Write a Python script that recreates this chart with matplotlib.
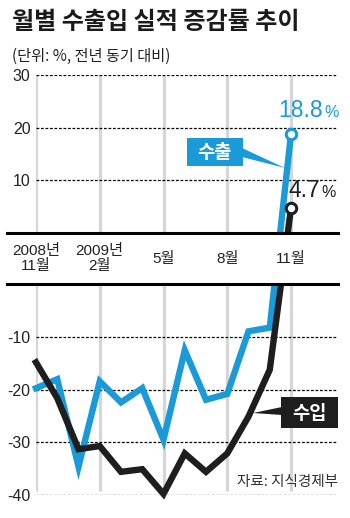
import numpy as np
import matplotlib
matplotlib.use('Agg')
import matplotlib.pyplot as plt
from matplotlib.patches import Rectangle, Polygon

# ---------------- data ----------------
months = list(range(13))  # 2008-11 ... 2009-11
exports = [-19.7, -18.0, -34.6, -18.4, -22.4, -19.7, -29.5, -12.5, -21.9, -20.8, -8.9, -8.2, 18.8]
imports = [-14.8, -21.6, -31.3, -30.7, -35.6, -35.1, -39.8, -32.1, -35.6, -32.1, -25.1, -16.2, 4.7]
x_tick_pos = [0, 3, 6, 9, 12]
x_tick_labels = ['2008년\n11월', '2009년\n2월', '5월', '8월', '11월']
y_ticks = [30, 20, 10, -10, -20, -30, -40]
y_tick_labels = ['30', '20', '10', '-10', '-20', '-30', '-40']
title = '월별 수출입 실적 증감률 추이'
subtitle = '(단위: %, 전년 동기 대비)'
source = '자료: 지식경제부'

BLUE = '#1a9ad6'
BLACK = '#1e1e1e'
GRID = '#d6d6d6'
NUM_FONT = ['Liberation Sans', 'Noto Sans CJK KR']
KR_FONT = ['Noto Sans CJK KR', 'DejaVu Sans']
plt.rcParams['font.family'] = KR_FONT

W, H = 350, 518
GAP = 9.8  # band inserted at zero for month labels


def fwd(y):
    y = np.asarray(y, dtype=float)
    return np.where(y >= 0, y, y - GAP)


def inv(p):
    p = np.asarray(p, dtype=float)
    return np.where(p >= 0, p, np.where(p <= -GAP, p + GAP, 0.0))


def P(x, y):
    return (x / W, 1 - y / H)


fig = plt.figure(figsize=(W / 100, H / 100), dpi=100)
fig.patch.set_facecolor('white')
ax = fig.add_axes([36 / W, 1 - 495 / H, (338 - 36) / W, (495 - 75) / H])
ax.set_yscale('function', functions=(fwd, inv))
ax.set_ylim(-40, 30)
ax.set_xlim(0, (338 - 36) / 21.25)
for s in ax.spines.values():
    s.set_visible(False)
ax.set_xticks([])
ax.set_yticks(y_ticks, y_tick_labels, family=NUM_FONT, fontsize=11.5, color='#222222')
ax.tick_params(axis='y', length=0, pad=4)
ax.set_facecolor('none')

NEG0 = -1e-6

# vertical grid
ax.vlines(x_tick_pos, -39.2, 30, color=GRID, lw=2.3, zorder=1)

# dashed horizontal lines
ax.hlines(y_ticks, 0, ax.get_xlim()[1], color='black', lw=0.9,
          linestyles=(0, (2.2, 1.4)), zorder=2)

# data lines
ax.plot(months, exports, color=BLUE, lw=4.6, solid_joinstyle='miter', clip_on=False, zorder=5)
ax.plot(months, imports, color=BLACK, lw=4.6, solid_joinstyle='miter', clip_on=False, zorder=6)
ax.plot(months[-1], exports[-1], 'o', ms=7.5, mfc='white', mec=BLUE, mew=2.2, zorder=7, clip_on=False)
ax.plot(months[-1], imports[-1], 'o', ms=7.5, mfc='white', mec=BLACK, mew=2.2, zorder=7, clip_on=False)

# white label band covering grid and lines
ax.axhspan(NEG0, 0, xmin=-29 / 302, xmax=1, facecolor='white', edgecolor='none',
           zorder=8, clip_on=False)
ax.axhline(0, xmin=-29 / 302, xmax=1, color='black', lw=2.2, clip_on=False, zorder=9)
ax.axhline(NEG0, xmin=-29 / 302, xmax=1, color='black', lw=2.2, clip_on=False, zorder=9)

# band labels
lo, hi = fwd(-40), fwd(30)
mid = (fwd(0) + fwd(NEG0)) / 2
frac = float((mid - lo) / (hi - lo))
for xp, lab in zip(x_tick_pos, x_tick_labels):
    ax.text(xp, frac, lab, transform=ax.get_xaxis_transform(), ha='center', va='center',
            family=NUM_FONT, fontsize=11, color='#222222', linespacing=1.05, zorder=10)

# end value annotations
ax.annotate(f'{exports[-1]:.1f}', xy=(months[-1], exports[-1]), xytext=(32, 17),
            textcoords='offset pixels', ha='right', va='baseline', color=BLUE,
            family=NUM_FONT, fontsize=16.5)
ax.annotate('%', xy=(months[-1], exports[-1]), xytext=(33, 17),
            textcoords='offset pixels', ha='left', va='baseline', color=BLUE,
            family=NUM_FONT, fontsize=11.5)
ax.annotate(f'{imports[-1]:.1f}', xy=(months[-1], imports[-1]), xytext=(29, 11),
            textcoords='offset pixels', ha='right', va='baseline', color=BLACK,
            family=NUM_FONT, fontsize=16.5)
ax.annotate('%', xy=(months[-1], imports[-1]), xytext=(30, 11),
            textcoords='offset pixels', ha='left', va='baseline', color=BLACK,
            family=NUM_FONT, fontsize=11.5)

# series label boxes with pointers
def label_box(x0, y0, x1, y1, text, color, wedge):
    fig.patches.append(Rectangle(P(x0, y1), (x1 - x0) / W, (y1 - y0) / H,
                                 transform=fig.transFigure, facecolor=color,
                                 edgecolor='none', zorder=8))
    fig.patches.append(Polygon([P(*w) for w in wedge], closed=True,
                               transform=fig.transFigure, facecolor=color,
                               edgecolor='none', zorder=8))
    fig.text(*P((x0 + x1) / 2, (y0 + y1) / 2 + 1), text, ha='center', va='center',
             color='white', fontsize=13.5, fontweight='bold', zorder=9)

label_box(187, 138, 243, 166, '수출', BLUE, [(242, 148), (242, 157), (285, 168)])
label_box(281, 397, 338, 428, '수입', BLACK, [(282, 407), (282, 415), (253, 413)])

# titles and source
fig.text(12 / W, 1 - 22 / H, title, ha='left', va='center', fontsize=17.3,
         fontweight='bold', color='#1a1a1a')
fig.text(12 / W, 1 - 56 / H, subtitle, ha='left', va='center', fontsize=11,
         color='#222222')
fig.text(338 / W, 1 - 482 / H, source, ha='right', va='center', fontsize=10.5,
         color='#333333')

fig.savefig('out.png', dpi=100, facecolor='white')
